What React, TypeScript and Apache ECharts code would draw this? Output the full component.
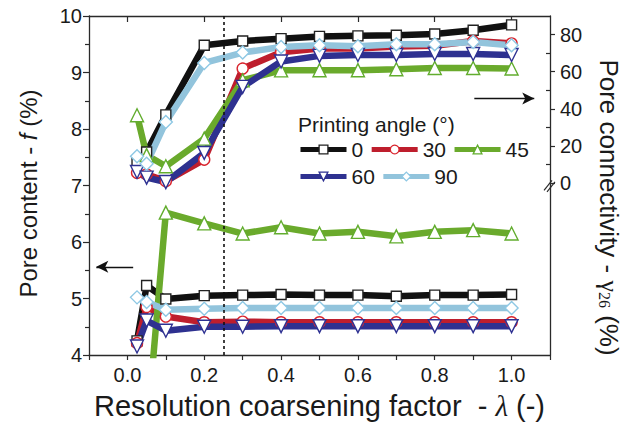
import React, { useEffect, useRef } from "react";
import * as echarts from "echarts";

// ---- data ----
const lambdaValues = [0.025, 0.05, 0.1, 0.2, 0.3, 0.4, 0.5, 0.6, 0.7, 0.8, 0.9, 1.0];
const angleNames = ["0", "30", "45", "60", "90"];

// Pore content f (%) - left axis
const content0 = [4.25, 5.23, 4.99, 5.05, 5.06, 5.07, 5.06, 5.06, 5.04, 5.06, 5.06, 5.07];
const content30 = [4.21, 4.85, 4.68, 4.58, 4.59, 4.58, 4.58, 4.58, 4.58, 4.58, 4.58, 4.58];
const content45 = [2.4, 2.6, 6.52, 6.33, 6.15, 6.26, 6.15, 6.18, 6.1, 6.18, 6.21, 6.15];
const content60 = [4.15, 4.61, 4.43, 4.5, 4.5, 4.51, 4.51, 4.51, 4.51, 4.51, 4.51, 4.51];
const content90 = [5.02, 4.94, 4.8, 4.82, 4.83, 4.83, 4.83, 4.83, 4.83, 4.83, 4.83, 4.83];

// Pore connectivity gamma26 (%) - right axis
const conn0 = [12, 16.7, 36.7, 74.2, 76.5, 77.8, 79, 79.3, 79.6, 80.3, 82.3, 85.2];
const conn30 = [5.5, 4.7, 1.0, 12.6, 61.7, 70.5, 72.5, 72.5, 73.5, 74, 76.5, 75.2];
const conn45 = [36.5, 15, 9, 23.9, 55.4, 60.7, 60.8, 60.8, 61.3, 62, 62, 61.7];
const conn60 = [5.9, 2.9, 0.5, 16.2, 51.8, 65.5, 68.5, 69, 69, 69.5, 69.5, 69];
const conn90 = [14.4, 10.4, 32.9, 64.7, 70.3, 73.3, 74.2, 73.7, 74.8, 74.8, 76, 74.2];

const contentSets = [content0, content30, content45, content60, content90];
const connSets = [conn0, conn30, conn45, conn60, conn90];

const xTickLabels = [0, 0.2, 0.4, 0.6, 0.8, 1.0];
const rightTickLabels = [0, 20, 40, 60, 80];
const rightMinorTicks = [10, 30, 50, 70];

// ---- styles ----
const FONT = "'Liberation Sans', Arial, Helvetica, sans-serif";
const SERIF = "'Liberation Serif', 'Times New Roman', serif";
const AX = "#2a2a2a";
const TXT = "#1a1a1a";

const seriesStyles = [
  { line: "#111111", mark: "#222222", symbol: "rect", size: 10, rotate: 0 },
  { line: "#be1e2d", mark: "#d9252e", symbol: "circle", size: 11, rotate: 0 },
  { line: "#6aaa2c", mark: "#62ad2e", symbol: "triangle", size: 13, rotate: 0 },
  { line: "#2e3190", mark: "#2e3192", symbol: "triangle", size: 13, rotate: 180 },
  { line: "#92c4dc", mark: "#8ec8e4", symbol: "diamond", size: 13, rotate: 0 },
];

const pairs = (ys: number[]) => lambdaValues.map((x, i) => [x, ys[i]]);

export default function App() {
  const ref = useRef<HTMLDivElement>(null);

  useEffect(() => {
    if (!ref.current) return;
    const chart = echarts.init(ref.current, undefined, { renderer: "svg" });

    const series: any[] = [];
    angleNames.forEach((name, i) => {
      const st = seriesStyles[i];
      [0, 1].forEach((yi) => {
        const s: any = {
          type: "line",
          name,
          xAxisIndex: 0,
          yAxisIndex: yi,
          data: pairs(yi === 0 ? contentSets[i] : connSets[i]),
          symbol: st.symbol,
          symbolSize: st.size,
          symbolRotate: st.rotate,
          showAllSymbol: true,
          clip: true,
          lineStyle: { color: st.line, width: 6.5, cap: "butt" },
          itemStyle: { color: "#ffffff", borderColor: st.mark, borderWidth: 1.4 },
          emphasis: { disabled: true },
        };
        if (i === 0 && yi === 0) {
          s.markLine = {
            silent: true,
            symbol: ["none", "arrow"],
            symbolSize: [9, 12],
            label: { show: false },
            data: [
              [
                { xAxis: 0.25, yAxis: 10, symbol: "none" },
                { xAxis: 0.25, yAxis: 4, symbol: "none", lineStyle: { color: "#111", width: 1.6, type: [3, 3] } },
              ],
              [
                { coord: [0.015, 5.56] },
                { coord: [-0.081, 5.56], lineStyle: { color: "#111", width: 1.4, type: "solid" } },
              ],
            ],
          };
        }
        if (i === 0 && yi === 1) {
          s.markLine = {
            silent: true,
            symbol: ["none", "arrow"],
            symbolSize: [9, 12],
            label: { show: false },
            lineStyle: { color: "#111", width: 1.4, type: "solid" },
            data: [[{ coord: [0.903, 45.5] }, { coord: [1.059, 45.5] }]],
          };
        }
        series.push(s);
      });
    });

    const legendCommon = {
      orient: "horizontal",
      padding: 0,
      itemWidth: 46,
      itemHeight: 11,
      itemGap: 6,
      selectedMode: false,
      textStyle: { fontSize: 21, color: TXT, fontFamily: FONT },
      lineStyle: { width: 5 },
      itemStyle: { borderWidth: 1.3 },
    };

    const option: any = {
      animation: false,
      backgroundColor: "#ffffff",
      textStyle: { fontFamily: FONT },
      grid: { left: 89, right: 85, top: 16, bottom: 72, containLabel: false, outerBoundsMode: "none" },
      legend: [
        { ...legendCommon, data: angleNames.slice(0, 3), left: 298, top: 139 },
        { ...legendCommon, data: angleNames.slice(3), left: 298, top: 166 },
      ],
      xAxis: [
        {
          type: "value",
          position: "bottom",
          min: -0.1,
          max: 1.1,
          interval: 0.1,
          axisLine: { onZero: false, lineStyle: { color: AX, width: 1.3 } },
          axisTick: { inside: false, length: 5, lineStyle: { color: AX, width: 1.2 } },
          axisLabel: {
            fontSize: 20,
            color: TXT,
            margin: 10,
            fontFamily: FONT,
            formatter: (v: number) => {
              const k = Math.round(v * 10);
              const ok = xTickLabels.some((t) => Math.round(t * 10) === k);
              return ok ? (k / 10).toFixed(1) : "";
            },
          },
          splitLine: { show: false },
          name: "Resolution coarsening factor  - {i|λ} (-)",
          nameLocation: "middle",
          nameGap: 36,
          nameTextStyle: {
            fontSize: 29,
            color: TXT,
            fontFamily: FONT,
            rich: { i: { fontSize: 29, fontStyle: "italic", fontFamily: SERIF, color: TXT } },
          },
        },
        {
          type: "value",
          position: "top",
          min: -0.1,
          max: 1.1,
          interval: 0.1,
          axisLine: { onZero: false, lineStyle: { color: AX, width: 1.3 } },
          axisTick: { inside: true, length: 6, customValues: xTickLabels, lineStyle: { color: AX, width: 1.2 } },
          axisLabel: { show: false },
          splitLine: { show: false },
        },
      ],
      yAxis: [
        {
          type: "value",
          position: "left",
          min: 4,
          max: 10,
          interval: 1,
          axisLine: { show: true, onZero: false, lineStyle: { color: AX, width: 1.3 } },
          axisTick: { show: true, inside: false, length: 6, lineStyle: { color: AX, width: 1.2 } },
          minorTick: { show: true, splitNumber: 2, length: 4, lineStyle: { color: AX, width: 1.2 } },
          axisLabel: { fontSize: 20, color: TXT, margin: 7, fontFamily: FONT },
          splitLine: { show: false },
          name: "Pore content - {i|f} (%)",
          nameLocation: "middle",
          nameRotate: 90,
          nameGap: 49,
          nameTextStyle: {
            fontSize: 24,
            color: TXT,
            fontFamily: FONT,
            padding: [0, 16, 0, 0],
            rich: { i: { fontSize: 24, fontStyle: "italic", fontFamily: FONT, color: TXT } },
          },
        },
        {
          type: "value",
          position: "right",
          min: -92.7,
          max: 90,
          axisLine: { show: true, onZero: false, lineStyle: { color: AX, width: 1.3 } },
          axisTick: { show: true, inside: false, length: 5, customValues: rightTickLabels, lineStyle: { color: AX, width: 1.2 } },
          axisLabel: { fontSize: 20, color: TXT, margin: 10, fontFamily: FONT, customValues: rightTickLabels },
          splitLine: { show: false },
          name: "Pore connectivity - {g|γ}{s|26} (%)",
          nameLocation: "middle",
          nameRotate: -90,
          nameGap: 46,
          nameTextStyle: {
            fontSize: 26,
            color: TXT,
            fontFamily: FONT,
            padding: [0, 0, 0, 44],
            rich: {
              g: { fontSize: 26, fontFamily: SERIF, color: TXT },
              s: { fontSize: 16, fontFamily: SERIF, color: TXT, verticalAlign: "bottom", lineHeight: 6 },
            },
          },
        },
        {
          type: "value",
          position: "right",
          min: -92.7,
          max: 90,
          axisLine: { show: false, onZero: false },
          axisTick: { show: true, inside: true, length: 4, customValues: rightMinorTicks, lineStyle: { color: AX, width: 1.2 } },
          axisLabel: { show: false },
          splitLine: { show: false },
        },
      ],
      series,
    };

    chart.setOption(option);

    const p = chart.convertToPixel({ xAxisIndex: 0, yAxisIndex: 1 }, [1.1, 0]) as number[];
    const bx = p[0];
    const by = p[1] + 2.5;
    chart.setOption({
      graphic: [
        {
          type: "text",
          left: 298,
          top: 114,
          z: 100,
          style: { text: "Printing angle (°)", fontSize: 21, fill: TXT, fontFamily: FONT },
        },
        {
          type: "group",
          z: 100,
          children: [
            {
              type: "polygon",
              shape: { points: [[bx - 6, by + 5], [bx + 2, by - 5], [bx + 5, by - 3.5], [bx - 3, by + 6.5]] },
              style: { fill: "#ffffff", stroke: "none" },
            },
            { type: "line", shape: { x1: bx - 6, y1: by + 5, x2: bx + 2, y2: by - 5 }, style: { stroke: AX, lineWidth: 1.2 } },
            { type: "line", shape: { x1: bx - 3, y1: by + 6.5, x2: bx + 5, y2: by - 3.5 }, style: { stroke: AX, lineWidth: 1.2 } },
          ],
        },
      ],
    });

    return () => chart.dispose();
  }, []);

  return (
    <div
      ref={ref}
      style={{ position: "fixed", left: 0, top: 0, width: 635, height: 427, background: "#fff" }}
    />
  );
}
